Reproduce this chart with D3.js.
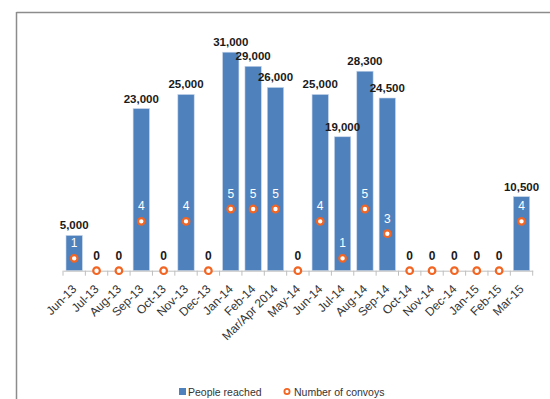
<!DOCTYPE html>
<html><head><meta charset="utf-8">
<script src="https://cdn.jsdelivr.net/npm/d3@7"></script>
<style>body{margin:0;background:#fff}svg{display:block}</style>
</head><body><svg id="c" width="550" height="399"></svg>
<script>
const months = ["Jun-13","Jul-13","Aug-13","Sep-13","Oct-13","Nov-13","Dec-13","Jan-14","Feb-14","Mar/Apr 2014","May-14","Jun-14","Jul-14","Aug-14","Sep-14","Oct-14","Nov-14","Dec-14","Jan-15","Feb-15","Mar-15"];
const peopleReached = [5000,0,0,23000,0,25000,0,31000,29000,26000,0,25000,19000,28300,24500,0,0,0,0,0,10500];
const convoys = [1,0,0,4,0,4,0,5,5,5,0,4,1,5,3,0,0,0,0,0,4];
const legendLabels = ["People reached","Number of convoys"];

const svg = d3.select("#c");
const x0 = 63, x1 = 532.7, yBase = 270.7, yTop = 24;
// frame
svg.append("line").attr("x1",16.5).attr("x2",550).attr("y1",12.5).attr("y2",12.5).attr("stroke","#8c8c8c").attr("stroke-width",1.5);
svg.append("line").attr("x1",16.5).attr("x2",16.5).attr("y1",12).attr("y2",399).attr("stroke","#8c8c8c").attr("stroke-width",1.5);

const x = d3.scaleBand().domain(months).range([x0,x1]).paddingInner(0.27).paddingOuter(0.135);
const xb = d3.scaleBand().domain(months).range([x0,x1]);
const y = d3.scaleLinear().domain([0,35000]).range([yBase,yTop]);
const y2 = d3.scaleLinear().domain([0,20]).range([yBase,yTop]);

const data = months.map((m,i)=>({m,p:peopleReached[i],c:convoys[i]}));

svg.selectAll("rect.bar").data(data.filter(d=>d.p>0)).join("rect")
  .attr("class","bar")
  .attr("x",d=>x(d.m)).attr("width",x.bandwidth())
  .attr("y",d=>y(d.p)).attr("height",d=>yBase-y(d.p))
  .attr("fill","#4f81bd").attr("stroke","#c6d5ea").attr("stroke-width",0.6);

// axis
const ax = svg.append("g").attr("transform",`translate(0,${yBase})`)
  .call(d3.axisBottom(xb).tickSize(0).tickFormat(""));
ax.select(".domain").attr("stroke","#bfbfbf");
const edges = months.map(m=>xb(m)).concat([x1]);
svg.selectAll("line.tk").data(edges).join("line").attr("class","tk")
  .attr("x1",d=>d).attr("x2",d=>d).attr("y1",yBase).attr("y2",yBase+5)
  .attr("stroke","#bfbfbf");

svg.selectAll("text.xl").data(months).join("text").attr("class","xl")
  .attr("transform",d=>`translate(${xb(d)+xb.bandwidth()/2+3},${yBase+19}) rotate(-45)`)
  .attr("text-anchor","end")
  .attr("font-family","Liberation Sans, Arial, sans-serif").attr("font-size",12)
  .attr("fill","#333").text(d=>d);

// bar value labels
svg.selectAll("text.vl").data(data.filter(d=>d.p>0)).join("text").attr("class","vl")
  .attr("x",d=>x(d.m)+x.bandwidth()/2).attr("y",d=>y(d.p)-6)
  .attr("text-anchor","middle")
  .attr("font-family","Liberation Sans Narrow, Arial Narrow, sans-serif").attr("font-weight","bold")
  .attr("font-size",11.5).attr("fill","#1a1a1a").text(d=>d3.format(",")(d.p));

// convoy markers
svg.selectAll("circle.cv").data(data).join("circle").attr("class","cv")
  .attr("cx",d=>xb(d.m)+xb.bandwidth()/2).attr("cy",d=>y2(d.c))
  .attr("r",3.3).attr("fill","#fff").attr("stroke","#f26522").attr("stroke-width",2.2);

svg.selectAll("text.cl").data(data).join("text").attr("class","cl")
  .attr("x",d=>xb(d.m)+xb.bandwidth()/2).attr("y",d=>y2(d.c)-11)
  .attr("text-anchor","middle")
  .attr("font-family","Liberation Sans Narrow, Arial Narrow, sans-serif")
  .attr("font-weight",d=>d.p>0?"normal":"bold")
  .attr("font-size",12).attr("fill",d=>d.p>0?"#ffffff":"#1a1a1a").text(d=>d.c);

// legend
const lg = svg.append("g");
lg.append("rect").attr("x",179).attr("y",388).attr("width",7).attr("height",7).attr("fill","#4f81bd");
lg.append("text").attr("x",188).attr("y",395.5).attr("font-family","Liberation Sans, Arial, sans-serif")
  .attr("font-size",10.5).attr("fill","#333").text(legendLabels[0]);
lg.append("circle").attr("cx",287).attr("cy",391.5).attr("r",2.6).attr("fill","#fff").attr("stroke","#f26522").attr("stroke-width",1.8);
lg.append("text").attr("x",294).attr("y",395.5).attr("font-family","Liberation Sans, Arial, sans-serif")
  .attr("font-size",10.5).attr("fill","#333").text(legendLabels[1]);
</script></body></html>
